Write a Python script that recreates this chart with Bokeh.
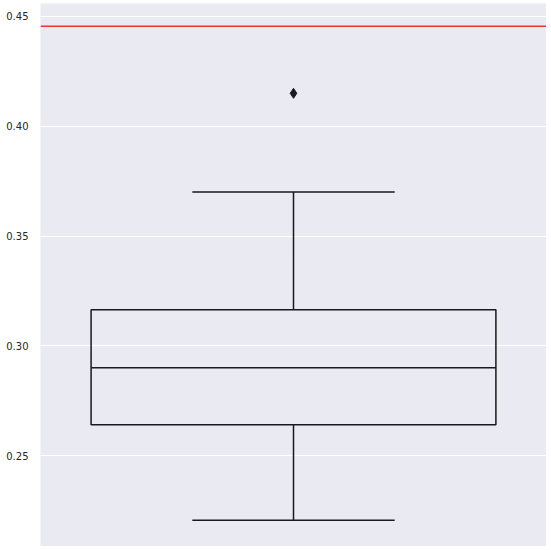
from bokeh.plotting import figure
from bokeh.models import Span, Range1d, FixedTicker, PrintfTickFormatter, ColumnDataSource
from bokeh.embed import file_html
from bokeh.resources import INLINE

# Box summary
positions = [0.0]
lower_whisker = [0.2205]
q1 = [0.2641]
median = [0.2900]
q3 = [0.3164]
upper_whisker = [0.3700]
outliers = [0.4150]
outlier_pos = [0.0]
reference_line = 0.4455
y_ticks = [0.25, 0.30, 0.35, 0.40, 0.45]

box_width = 0.8
cap_width = 0.4

p = figure(width=546, height=546, output_backend="svg", toolbar_location=None,
           x_range=Range1d(-0.5, 0.5), y_range=Range1d(0.2086, 0.4559),
           min_border_left=40, min_border_right=0, min_border_top=3, min_border_bottom=0)

p.background_fill_color = "#EAEAF2"
p.border_fill_color = "white"
p.outline_line_color = None
p.xaxis.visible = False
p.xgrid.visible = False
p.ygrid.grid_line_color = "white"
p.ygrid.grid_line_width = 1

ax = p.yaxis[0]
ax.ticker = FixedTicker(ticks=y_ticks)
ax.formatter = PrintfTickFormatter(format="%.2f")
ax.axis_line_color = None
ax.major_tick_line_color = None
ax.minor_tick_line_color = None
ax.major_label_text_font = "DejaVu Sans"
ax.major_label_text_font_size = "10px"
ax.major_label_text_color = "#262626"
ax.major_label_standoff = 6

src = ColumnDataSource(dict(x=positions, lw=lower_whisker, q1=q1, med=median, q3=q3, uw=upper_whisker,
                            cl=[x - cap_width / 2 for x in positions], cr=[x + cap_width / 2 for x in positions],
                            bl=[x - box_width / 2 for x in positions], br=[x + box_width / 2 for x in positions]))

lc = "#1a1a1a"
lw = 1.5
# whiskers
p.segment(x0="x", y0="q3", x1="x", y1="uw", source=src, line_color=lc, line_width=lw)
p.segment(x0="x", y0="lw", x1="x", y1="q1", source=src, line_color=lc, line_width=lw)
# caps
p.segment(x0="cl", y0="uw", x1="cr", y1="uw", source=src, line_color=lc, line_width=lw)
p.segment(x0="cl", y0="lw", x1="cr", y1="lw", source=src, line_color=lc, line_width=lw)
# box
p.quad(left="bl", right="br", bottom="q1", top="q3", source=src, fill_color=None, line_color=lc, line_width=lw)
# median
p.segment(x0="bl", y0="med", x1="br", y1="med", source=src, line_color=lc, line_width=lw)
# outliers
p.scatter(outlier_pos, outliers, marker="diamond", size=10, fill_color=lc, line_color=lc)

p.add_layout(Span(location=reference_line, dimension="width", line_color="#ee3333", line_width=1.5))

open("out.html", "w").write(file_html(p, INLINE))
